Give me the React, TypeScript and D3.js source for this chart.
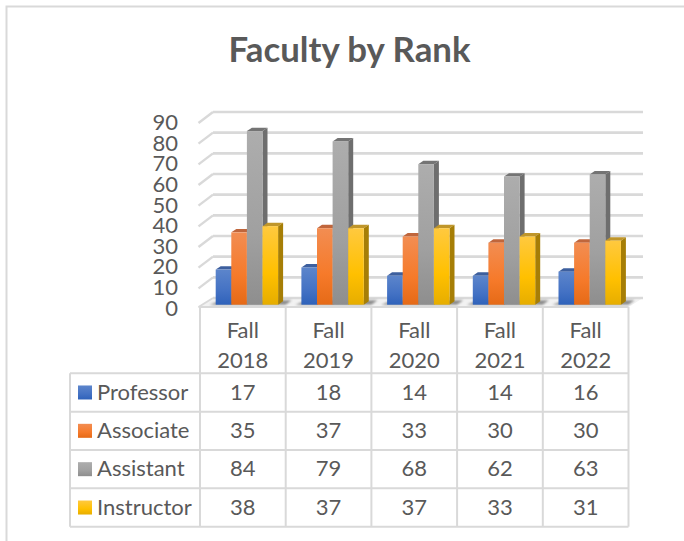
import React from "react";
import * as d3 from "d3";

const categories = ["Fall 2018", "Fall 2019", "Fall 2020", "Fall 2021", "Fall 2022"];
const seriesNames = ["Professor", "Associate", "Assistant", "Instructor"];
const professor = [17, 18, 14, 14, 16];
const associate = [35, 37, 33, 30, 30];
const assistant = [84, 79, 68, 62, 63];
const instructor = [38, 37, 37, 33, 31];
const ticks = [0, 10, 20, 30, 40, 50, 60, 70, 80, 90];

const seriesValues = [professor, associate, assistant, instructor];
const palette = [
  { top: "#5c85cb", mid: "#4472c4", bot: "#2f62ba", side: "#2f5597", cap: "#3d5f9e" },
  { top: "#f28d52", mid: "#f67a2a", bot: "#e56a17", side: "#a9521c", cap: "#c0663c" },
  { top: "#adadad", mid: "#a0a0a0", bot: "#8e8e8e", side: "#6e6e6e", cap: "#747474" },
  { top: "#ffc93f", mid: "#ffc000", bot: "#e6ad00", side: "#a67e06", cap: "#c0962a" },
];

const FONT = "Lato, Carlito, sans-serif";
const TEXT = "#595959";
const LINE = "#d9d9d9";

const tableLeft = 200;
const tableRight = 628.5;
const x = d3.scaleBand<string>().domain(categories).range([tableLeft, tableRight]);
const barX = d3.scaleBand<string>().domain(seriesNames).range([0, 62.4]);
const barInset = 15.7;
const yFront = d3.scaleLinear().domain([0, 90]).range([304.7, 118.7]);
const yBack = d3.scaleLinear().domain([0, 90]).range([298, 112]);
const yLabel = d3.scaleLinear().domain([0, 90]).range([308, 122.5]);
const rowY = d3.scaleBand<string>().domain(seriesNames).range([373.3, 526.7]);
const depthX = 5;
const depthY = 3.4;
const backLeft = 213;
const backRight = 643;
const frontLeft = 198.5;
const headerTop = 307;

const pts = (p: number[][]) => p.map((q) => q.join(",")).join(" ");

export default function App() {
  const cols = [...categories.map((c) => x(c)!), tableRight];
  return (
    <svg width={684} height={541} style={{ position: "absolute", left: 0, top: 0 }} fontFamily={FONT}>
      <defs>
        {palette.map((c, i) => (
          <linearGradient key={i} id={`g${i}`} x1="0" y1="0" x2="0" y2="1">
            <stop offset="0" stopColor={c.top} />
            <stop offset="0.6" stopColor={c.mid} />
            <stop offset="1" stopColor={c.bot} />
          </linearGradient>
        ))}
        <filter id="blur" x="-20%" y="-50%" width="140%" height="200%">
          <feGaussianBlur stdDeviation="0.9" />
        </filter>
      </defs>
      <rect width={684} height={541} fill="#fff" />
      <path d="M6.5,541V6.5H684" fill="none" stroke={LINE} strokeWidth={2} />

      <text x={349.5} y={62} textAnchor="middle" fontSize={34.8} fontWeight={700} fill={TEXT}>
        Faculty by Rank
      </text>

      {/* floor */}
      <polygon
        points={pts([[frontLeft, headerTop], [backLeft, yBack(0)], [backRight, yBack(0)], [tableRight, headerTop]])}
        fill="#f2f2f2"
      />
      {/* walls */}
      {ticks.map((t) => (
        <g key={t} stroke={LINE} fill="none">
          <line x1={backLeft} x2={backRight} y1={yBack(t)} y2={yBack(t)} strokeWidth={2.6} />
          {t > 0 && <line x1={frontLeft} x2={backLeft} y1={yBack(t) + 11} y2={yBack(t)} strokeWidth={2.4} />}
        </g>
      ))}
      <line x1={frontLeft} x2={backLeft} y1={headerTop} y2={yBack(0)} stroke={LINE} strokeWidth={2} />

      {ticks.map((t) => (
        <text key={t} x={178} y={yLabel(t)} dy="0.35em" textAnchor="end" fontSize={22} fill={TEXT}>
          {t}
        </text>
      ))}

      {/* bars */}
      {categories.map((c, ci) => {
        const gx = x(c)! + barInset;
        return (
          <g key={c}>
            <polygon
              points={pts([[gx - 6, yFront(0)], [gx + 6, yFront(0) - 4.5], [gx + 76, yFront(0) - 4.5], [gx + 70, yFront(0)]])}
              fill="#6b6b6b"
              opacity={0.75}
              filter="url(#blur)"
            />
            {seriesNames.map((s, si) => {
              const v = seriesValues[si][ci];
              const bx = gx + barX(s)!;
              const w = barX.bandwidth();
              const yt = yFront(v);
              const yb = yFront(0);
              const col = palette[si];
              return (
                <g key={s}>
                  <polygon points={pts([[bx, yt], [bx + depthX, yt - depthY], [bx + w + depthX, yt - depthY], [bx + w, yt]])} fill={col.cap} />
                  <polygon points={pts([[bx + w, yt], [bx + w + depthX, yt - depthY], [bx + w + depthX, yb - depthY], [bx + w, yb]])} fill={col.side} />
                  <rect x={bx} y={yt} width={w} height={yb - yt} fill={`url(#g${si})`} />
                </g>
              );
            })}
          </g>
        );
      })}

      {/* data table */}
      <g stroke={LINE} strokeWidth={2} fill="none">
        <line x1={tableLeft - 1.5} x2={tableRight} y1={headerTop} y2={headerTop} />
        {cols.map((cx) => (
          <line key={cx} x1={cx} x2={cx} y1={headerTop} y2={rowY.range()[1]} />
        ))}
        <line x1={70} x2={70} y1={rowY.range()[0]} y2={rowY.range()[1]} />
        {seriesNames.map((s) => (
          <line key={s} x1={70} x2={tableRight} y1={rowY(s)!} y2={rowY(s)!} />
        ))}
        <line x1={70} x2={tableRight} y1={rowY.range()[1]} y2={rowY.range()[1]} />
      </g>

      {categories.map((c) => {
        const [a, b] = c.split(" ");
        const cx = x(c)! + x.bandwidth() / 2;
        return (
          <g key={c} textAnchor="middle" fontSize={22} fill={TEXT}>
            <text x={cx} y={330.5} dy="0.35em">{a}</text>
            <text x={cx} y={360} dy="0.35em">{b}</text>
          </g>
        );
      })}

      {seriesNames.map((s, si) => {
        const cy = rowY(s)! + rowY.bandwidth() / 2;
        return (
          <g key={s}>
            <rect x={78} y={cy - 7} width={14} height={14} fill={`url(#g${si})`} />
            <text x={97} y={cy - 0.6} dy="0.35em" fontSize={22} fill={TEXT}>{s}</text>
            {categories.map((c, ci) => (
              <text key={c} x={x(c)! + x.bandwidth() / 2} y={cy - 0.6} dy="0.35em" textAnchor="middle" fontSize={22} fill={TEXT}>
                {seriesValues[si][ci]}
              </text>
            ))}
          </g>
        );
      })}
    </svg>
  );
}
